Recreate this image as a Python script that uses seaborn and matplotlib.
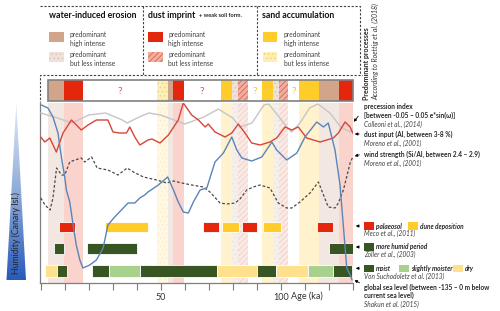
import numpy as np
import matplotlib
matplotlib.use('Agg')
import matplotlib.pyplot as plt
import seaborn as sns
from matplotlib.patches import Rectangle, Polygon
from matplotlib.colors import LinearSegmentedColormap

# ---- data (ages in ka) ----
# predominant processes strip (Roettig et al. 2018)
strip_start = [2.9, 9.8, 17.8, 48.3, 52.9, 55.3, 59.6, 75.1, 79.8, 82.1,
               86.5, 92.1, 96.9, 99.4, 103.2, 107.6, 115.9, 124.3]
strip_end = [9.8, 17.8, 48.3, 52.9, 55.3, 59.6, 75.1, 79.8, 82.1, 86.5,
             92.1, 96.9, 99.4, 103.2, 107.6, 115.9, 124.3, 130.0]
strip_kind = ['water', 'dust', '?dust', 'sand_less', 'water', 'dust', '?dust',
              'sand', 'water_less', 'dust_less', '?sand', 'sand', 'water_less',
              'dust_less', '?sand', 'sand', 'water', 'dust']

# curves, values = relative height inside the panel (0 bottom .. 180 top)
prec_age = [0, 7, 13, 20, 27, 34, 36, 41, 45, 50, 60, 68, 74, 80, 83, 88,
            93, 95, 98, 102.5, 104.5, 108, 112, 115.5, 120.5, 125, 129, 130]
prec_val = [170, 165, 160, 168, 170, 163, 160, 166, 170, 168, 159, 166, 174,
            165, 156, 160, 178, 179, 170, 156, 151, 160, 175, 179, 170, 156,
            151, 155]

dust_age = [0, 1.7, 3.8, 6.5, 9.3, 12.8, 16.9, 19.7, 23.2, 28, 30.1, 32.9,
            35.7, 37.1, 39.2, 41.3, 44.7, 46.3, 49.7, 53.2, 57.3, 59.4, 62.9,
            65.7, 68.5, 69.8, 72.6, 76.8, 79.6, 82.3, 85.1, 87.9, 91.4, 95.5,
            98.3, 101.8, 104.6, 107.3, 110.8, 116.4, 121.9, 124, 126.8, 128.9,
            130]
dust_val = [146, 141, 145, 131, 150, 163, 153, 158, 163, 163, 151, 150, 150,
            156, 146, 138, 143, 144, 140, 148, 163, 180, 168, 163, 156, 159,
            151, 146, 150, 159, 150, 140, 138, 141, 145, 156, 153, 156, 145,
            141, 145, 150, 161, 156, 150]

wind_age = [0, 1.8, 3.9, 5.1, 6.6, 8.7, 10, 12.1, 14.2, 16.9, 18.3, 21.2,
            23.5, 28, 32.2, 36, 38.6, 42.8, 48.3, 52.5, 55.3, 58.8, 62.9, 67.8,
            70.5, 74.7, 77.5, 81, 83, 85.8, 88.6, 91.4, 95.5, 99, 102.5, 104.6,
            108, 112.2, 115.7, 117.8, 119.8, 122.6, 124, 126.1, 128.9, 130]
wind_val = [85, 78, 73, 85, 115, 108, 108, 121, 123, 125, 121, 126, 115, 113,
            108, 115, 111, 106, 103, 100, 102, 100, 98, 96, 91, 80, 79, 80, 84,
            93, 96, 98, 95, 80, 75, 75, 81, 90, 101, 88, 76, 75, 80, 93, 120,
            126]

sea_age = [0.3, 3, 5.1, 7.2, 8.6, 10, 10.7, 12.1, 13.5, 14.8, 16.3, 17.6,
           20.4, 23.2, 26, 28, 30.8, 33.6, 36.4, 39.2, 41.3, 43.3, 44.7, 49,
           52.9, 55.3, 57.3, 59.4, 61.5, 63.6, 66.4, 69.2, 72.6, 76.1, 79.6,
           81.7, 83.8, 87.9, 92.1, 96.3, 98.3, 102.5, 106.7, 110.1, 115,
           117.8, 119.8, 122.6, 124.7, 127.5, 128.9, 129.7]
sea_val = [178, 175, 166, 150, 126, 106, 93, 81, 58, 38, 23, 15, 18, 23, 35,
           58, 66, 73, 80, 80, 85, 88, 91, 98, 106, 93, 81, 71, 70, 81, 93,
           95, 121, 130, 146, 133, 125, 122, 126, 141, 133, 123, 130, 146,
           161, 156, 160, 133, 98, 15, 8, 3]

# palaeosol / dune deposition (Meco et al. 2011)
meco_start = [7.8, 26.8, 67.8, 75.4, 84.0, 92.4, 115.0]
meco_end = [14.3, 44.6, 74.3, 82.8, 90.3, 100.0, 121.7]
meco_kind = ['palaeosol', 'dune', 'palaeosol', 'dune', 'palaeosol', 'dune', 'palaeosol']

# more humid periods (Zoeller et al. 2003)
zoller_start = [5.4, 19.4, 120.3]
zoller_end = [9.6, 40.1, 130.1]

# moist / slightly moister / dry (Von Suchodoletz et al. 2013)
vs_start = [1.9, 6.7, 21.3, 28.5, 41.5, 73.6, 90.0, 98.0, 111.4, 121.9]
vs_end = [6.7, 11.1, 28.5, 41.5, 73.6, 90.0, 98.0, 111.4, 121.9, 129.6]
vs_kind = ['dry', 'moist', 'moist', 'slightly', 'moist', 'dry', 'moist', 'dry',
           'slightly', 'moist']

tick_ages = list(range(0, 131, 10))
tick_labels = ['50' if t == 50 else '100' if t == 100 else '' for t in tick_ages]

# ---- styles ----
RED, YEL, DGREEN, LGREEN, LYEL = '#e3260c', '#ffcc29', '#375623', '#a9d18e', '#ffe08c'
strip_face = {'water': '#d2a48a', 'dust': RED, 'sand': YEL,
              'water_less': '#efe2da', 'dust_less': '#efb0a3', 'sand_less': '#fdefb8'}
strip_hatch = {'water_less': ('....', '#dcc6b8'), 'dust_less': ('//////', '#dc624d'),
               'sand_less': ('....', '#f2d478')}
band_face = {'water': '#f3e7e1', 'dust': '#f9d3cc', 'sand': '#fff2cc',
             'water_less': '#f5f0ec', 'dust_less': '#faeae6', 'sand_less': '#fff8e4'}
band_hatch = {'water_less': ('....', '#ede3dc'), 'dust_less': ('//////', '#f3cdc5'),
              'sand_less': ('....', '#fbeec6')}
bar_color = {'palaeosol': RED, 'dune': YEL, 'moist': DGREEN, 'slightly': LGREEN, 'dry': LYEL}

sns.set_theme(style='white')
plt.rcParams['font.family'] = ['Lato', 'DejaVu Sans']
plt.rcParams['hatch.linewidth'] = 0.6

fig = plt.figure(figsize=(5, 3.11), dpi=100)

# main panel
ax = fig.add_axes([40 / 500, 28 / 311, 313 / 500, 180 / 311])
ax.set_xlim(-0.3, 130.1)
ax.set_ylim(0, 180)

for s, e, k in zip(strip_start, strip_end, strip_kind):
    if k.startswith('?'):
        continue
    h, hc = band_hatch.get(k, (None, band_face[k]))
    ax.axvspan(s, e, facecolor=band_face[k], edgecolor=hc, hatch=h, lw=0, zorder=0)

for s, e, k in zip(meco_start, meco_end, meco_kind):
    ax.barh(56, e - s, left=s, height=10.6, color=bar_color[k], edgecolor='white', lw=0.6, zorder=2)
for s, e in zip(zoller_start, zoller_end):
    ax.barh(34.6, e - s, left=s, height=11.8, color=DGREEN, edgecolor='white', lw=0.6, zorder=2)
for s, e, k in zip(vs_start, vs_end, vs_kind):
    ax.barh(11.8, e - s, left=s, height=12.3, color=bar_color[k], edgecolor='white', lw=0.6, zorder=2)

sns.lineplot(x=prec_age, y=prec_val, ax=ax, color='#c6c6c6', lw=1.0, estimator=None, zorder=3)
sns.lineplot(x=dust_age, y=dust_val, ax=ax, color='#d8453a', lw=1.0, estimator=None, zorder=4)
sns.lineplot(x=wind_age, y=wind_val, ax=ax, color='#4a4a4a', lw=0.9, estimator=None,
             linestyle=(0, (2.2, 1.6)), zorder=4)
sns.lineplot(x=sea_age, y=sea_val, ax=ax, color='#5a85b8', lw=1.0, estimator=None, zorder=5)

ax.set_xticks(tick_ages)
ax.set_xticklabels(tick_labels)
ax.set_yticks([])
ax.tick_params(axis='x', bottom=True, length=5, width=0.8, color='#7f7f7f',
               labelsize=6.5, pad=2, labelcolor='#333333')
for side in ['top', 'right']:
    ax.spines[side].set_visible(False)
for side in ['left', 'bottom']:
    ax.spines[side].set_color('#7f7f7f')
    ax.spines[side].set_linewidth(0.9)
ax.set_xlabel('')
ax.set_ylabel('')

# process strip
ax_s = fig.add_axes([40 / 500, (311 - 101) / 311, 313 / 500, 21.5 / 311])
ax_s.set_xlim(-0.3, 130.1)
ax_s.set_ylim(0, 1)
ax_s.axis('off')
for s, e, k in zip(strip_start, strip_end, strip_kind):
    if k.startswith('?'):
        qc = '#e8503a' if k == '?dust' else '#ffc000'
        ax_s.text((s + e) / 2, 0.45, '?', color=qc, fontsize=7.5, ha='center', va='center')
        continue
    h, hc = strip_hatch.get(k, (None, strip_face[k]))
    ax_s.barh(0.5, e - s, left=s, height=1, facecolor=strip_face[k], edgecolor=hc, hatch=h, lw=0)
ax_s.add_patch(Rectangle((strip_start[0], 0), strip_end[-1] - strip_start[0], 1,
                         fill=False, edgecolor='#808080', lw=1.2, clip_on=False))

# overlay in pixel coordinates for legend, labels and arrows
ax_o = fig.add_axes([0, 0, 1, 1])
grad = np.linspace(0, 1, 256).reshape(-1, 1)
cmap = LinearSegmentedColormap.from_list('hum', ['#e4ebf6', '#8fabd9', '#2a5bb8'])
im = ax_o.imshow(grad, extent=[6, 27, 280, 103], cmap=cmap, aspect='auto', zorder=1)
wedge = Polygon([(16.3, 103), (6.5, 280), (26, 280)], facecolor='none', edgecolor='none')
ax_o.add_patch(wedge)
im.set_clip_path(wedge)
ax_o.text(16.5, 233, 'Humidity (Canary Isl.)', rotation=90, fontsize=6.3, ha='center', va='center')

ax_o.set_xlim(0, 500)
ax_o.set_ylim(311, 0)
ax_o.axis('off')

# dashed legend frame
dash = dict(color='#404040', lw=0.8, linestyle=(0, (2, 1.5)))
ax_o.plot([40, 360, 360, 40, 40], [6, 6, 75, 75, 102], **dash)
ax_o.plot([143, 143], [6, 75], **dash)
ax_o.plot([257, 257], [6, 75], **dash)

legend_groups = [
    (49, 'water-induced erosion', 'water', 'water_less', 15),
    (147.5, 'dust imprint', 'dust', 'dust_less', 15.5),
    (262.5, 'sand accumulation', 'sand', 'sand_less', 14),
]
for x0, title, hi, lo, w in legend_groups:
    ax_o.text(x0, 15, title, fontsize=6.3, fontweight='bold', va='center', color='#111111')
    for y0, k, txt in [(31.7, hi, 'predominant\nhigh intense'), (51.7, lo, 'predominant\nbut less intense')]:
        h, hc = strip_hatch.get(k, (None, strip_face[k]))
        ax_o.add_patch(Rectangle((x0, y0), w, 10.8, facecolor=strip_face[k],
                                 edgecolor=hc, hatch=h, lw=0))
        ax_o.text(x0 + 21, y0 + 7, txt, fontsize=4.8, va='center', color='#404040',
                  linespacing=1.3)
ax_o.text(199, 15.5, '+ weak soil form.', fontsize=4.1, fontweight='bold', va='center')

ax_o.text(367, 100, 'Predominant processes', rotation=90, fontsize=5, fontweight='bold',
          ha='center', va='bottom')
ax_o.text(376, 100, 'According to Roettig et al. (2018)', rotation=90, fontsize=5,
          fontstyle='italic', ha='center', va='bottom', color='#333333')

ax_o.text(307, 296, 'Age (ka)', fontsize=6.5, ha='center', va='center', color='#333333')

# right-hand annotations
bold_lines = [
    (106, 'precession index'),
    (115, '[between -0.05 – 0.05 e*sin(ω)]'),
    (134, 'dust input (Al, between 3-8 %)'),
    (154.3, 'wind strength (Si/Al, between 2.4 – 2.9)'),
    (287.3, 'global sea level (between -135 – 0 m below'),
    (295.7, 'current sea level)'),
]
for y, s in bold_lines:
    ax_o.text(364, y, s, fontsize=4.7, fontweight='bold', va='center')
ital_lines = [
    (124, 'Colleoni et al., (2014)'),
    (143.3, 'Moreno et al., (2001)'),
    (163.3, 'Moreno et al., (2001)'),
    (233.5, 'Meco et al., (2011)'),
    (254.5, 'Zöller et al., (2003)'),
    (276, 'Von Suchodoletz et al. (2013)'),
    (304, 'Shakun et al. (2015)'),
]
for y, s in ital_lines:
    ax_o.text(364, y, s, fontsize=4.7, fontstyle='italic', va='center', color='#404040')

key_items = [
    (226, 364, RED, 'palaeosol'), (226, 407.5, YEL, 'dune deposition'),
    (247, 364, DGREEN, 'more humid period'),
    (268.3, 364, DGREEN, 'moist'), (268.3, 399, LGREEN, 'slightly moister'),
    (268.3, 453, LYEL, 'dry'),
]
for y, x, c, s in key_items:
    ax_o.add_patch(Rectangle((x, y - 3.8), 10, 7.6, facecolor=c, edgecolor='none'))
    ax_o.text(x + 12, y, s, fontsize=4.7, fontweight='bold', fontstyle='italic', va='center')

arrow = dict(arrowstyle='-|>', color='black', lw=0.6, mutation_scale=4)
for xy, xyt in [((352, 124), (360, 114)), ((352, 134), (362, 134)), ((352, 157), (362, 154)),
                ((353, 226), (362, 226)), ((353, 247), (362, 247)), ((353, 268.3), (362, 268.3)),
                ((352, 279), (362, 284))]:
    ax_o.annotate('', xy=xy, xytext=xyt, arrowprops=arrow)

fig.savefig('out.png', dpi=100)
